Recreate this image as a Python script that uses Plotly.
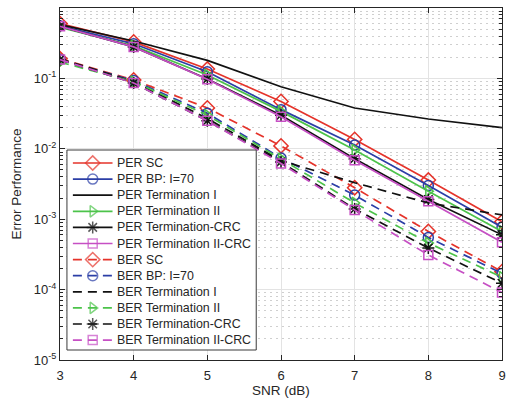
import plotly.graph_objects as go

snr = [3, 4, 5, 6, 7, 8, 9]

# Packet error rates
per_sc = [0.60, 0.33, 0.136, 0.047, 0.0136, 0.0036, 0.00092]
per_bp = [0.56, 0.31, 0.124, 0.036, 0.0113, 0.0030, 0.00077]
per_term1 = [0.58, 0.34, 0.18, 0.076, 0.038, 0.0265, 0.020]
per_term2 = [0.53, 0.29, 0.112, 0.034, 0.0096, 0.0025, 0.00067]
per_term_crc = [0.55, 0.28, 0.098, 0.030, 0.0072, 0.0019, 0.00060]
per_term2_crc = [0.55, 0.28, 0.097, 0.0286, 0.0069, 0.0018, 0.00047]

# Bit error rates
ber_sc = [0.19, 0.095, 0.038, 0.011, 0.0028, 0.00067, 0.00018]
ber_bp = [0.185, 0.093, 0.032, 0.0074, 0.0022, 0.00055, 0.00017]
ber_term1 = [0.19, 0.090, 0.027, 0.0068, 0.0033, 0.0017, 0.00115]
ber_term2 = [0.17, 0.090, 0.030, 0.0072, 0.0017, 0.00046, 0.00015]
ber_term_crc = [0.185, 0.086, 0.025, 0.0065, 0.0014, 0.00039, 0.000123]
ber_term2_crc = [0.185, 0.086, 0.025, 0.0062, 0.00135, 0.00031, 0.000091]

RED = "#e5332a"
BLUE = "#2b3ea6"
BLACK = "#111111"
GREEN = "#4cc34a"
MAGENTA = "#c64fc4"
TEXT = "#262626"
DASH = "9px,6px"

series = [
    ("PER SC", per_sc, RED, "diamond-open", "solid"),
    ("PER BP: I=70", per_bp, BLUE, "circle-open", "solid"),
    ("PER Termination I", per_term1, BLACK, None, "solid"),
    ("PER Termination II", per_term2, GREEN, "triangle-right-open", "solid"),
    ("PER Termination-CRC", per_term_crc, BLACK, "asterisk-open", "solid"),
    ("PER Termination II-CRC", per_term2_crc, MAGENTA, "square-open", "solid"),
    ("BER SC", ber_sc, RED, "diamond-open", DASH),
    ("BER BP: I=70", ber_bp, BLUE, "circle-open", DASH),
    ("BER Termination I", ber_term1, BLACK, None, DASH),
    ("BER Termination II", ber_term2, GREEN, "triangle-right-open", DASH),
    ("BER Termination-CRC", ber_term_crc, BLACK, "asterisk-open", DASH),
    ("BER Termination II-CRC", ber_term2_crc, MAGENTA, "square-open", DASH),
]

MARKER_SIZE = {"diamond-open": 11, "circle-open": 10, "triangle-right-open": 10,
               "asterisk-open": 10, "square-open": 9}

W, H = 507, 406
M_L, M_R, M_T, M_B = 60, 1, 8, 46
PW, PH = W - M_L - M_R, H - M_T - M_B


def fx(px):
    """Pixel column -> overlay axis coordinate."""
    return (px - M_L) / PW


def fy(py):
    """Pixel row -> overlay axis coordinate."""
    return 1 - (py - M_T) / PH


fig = go.Figure()
for name, vals, color, symbol, dash in series:
    mode = "lines+markers" if symbol else "lines"
    marker = dict(symbol=symbol, size=MARKER_SIZE.get(symbol, 9), color=color,
                  line=dict(width=1.5, color=color)) if symbol else None
    fig.add_trace(go.Scatter(
        x=snr, y=vals, name=name, mode=mode, showlegend=False,
        line=dict(color=color, width=1.7, dash=dash), marker=marker,
        xaxis="x", yaxis="y",
    ))

# Legend panel on an overlay subplot so it sits above the curves
box_l, box_r, box_t, box_b = 67, 258, 150, 350
fig.add_trace(go.Scatter(
    x=[fx(box_l), fx(box_r), fx(box_r), fx(box_l), fx(box_l)],
    y=[fy(box_t), fy(box_t), fy(box_b), fy(box_b), fy(box_t)],
    mode="lines", fill="toself", fillcolor="white",
    line=dict(color="#3a3a3a", width=1), hoverinfo="skip",
    showlegend=False, xaxis="x2", yaxis="y2",
))

row0, row_step = 163, 16.1
s_l, s_r = 73, 113
annotations = []
for i, (name, vals, color, symbol, dash) in enumerate(series):
    ry = fy(row0 + i * row_step)
    xs = [fx(s_l), fx((s_l + s_r) / 2), fx(s_r)]
    sizes = [0, MARKER_SIZE.get(symbol, 9), 0]
    fig.add_trace(go.Scatter(
        x=xs, y=[ry, ry, ry],
        mode="lines+markers" if symbol else "lines",
        line=dict(color=color, width=1.7, dash=dash),
        marker=dict(symbol=symbol, size=sizes, color=color,
                    line=dict(width=1.5, color=color)) if symbol else None,
        hoverinfo="skip", showlegend=False, xaxis="x2", yaxis="y2",
    ))
    annotations.append(dict(
        x=fx(118), y=ry, xref="x2", yref="y2", text=name, showarrow=False,
        xanchor="left", yanchor="middle", xshift=-2,
        font=dict(size=12.4, color=TEXT),
    ))

decades = [1e-5, 1e-4, 1e-3, 1e-2, 1e-1, 1]
decade_text = ["10<sup>-5</sup>", "10<sup>-4</sup>", "10<sup>-3</sup>",
               "10<sup>-2</sup>", "10<sup>-1</sup>", "10<sup>0</sup>"]
minor_vals = [k * d for d in decades[:-1] for k in range(2, 10)]

font_family = "Liberation Sans, Arial, sans-serif"

fig.update_layout(
    width=W, height=H,
    margin=dict(l=M_L, r=M_R, t=M_T, b=M_B),
    paper_bgcolor="white", plot_bgcolor="white",
    font=dict(family=font_family, size=12, color=TEXT),
    showlegend=False,
    annotations=annotations,
    xaxis=dict(
        range=[3, 9], tickvals=snr, ticks="inside", ticklen=5,
        tickcolor=TEXT, showline=True, linecolor=TEXT, linewidth=1,
        mirror="ticks", showgrid=True, gridcolor="#e3e3e3", gridwidth=1,
        zeroline=False, ticklabelstandoff=3, ticklabeloverflow="allow",
        title=dict(text="SNR (dB)", font=dict(size=13.5), standoff=2),
        tickfont=dict(size=13),
    ),
    yaxis=dict(
        type="log", range=[-5, 0], tickvals=decades, ticktext=decade_text,
        ticks="inside", ticklen=5, tickcolor=TEXT,
        showline=True, linecolor=TEXT, linewidth=1, mirror="ticks",
        showgrid=True, gridcolor="#e3e3e3", gridwidth=1, zeroline=False,
        minor=dict(tickvals=minor_vals, ticks="inside", ticklen=3,
                   tickcolor=TEXT, showgrid=True, gridcolor="#cfcfcf",
                   griddash="2px,4px", gridwidth=1),
        title=dict(text="Error Performance", font=dict(size=13.5), standoff=9),
        tickfont=dict(size=13),
    ),
    xaxis2=dict(overlaying="x", anchor="y2", range=[0, 1], visible=False,
                fixedrange=True),
    yaxis2=dict(overlaying="y", anchor="x2", range=[0, 1], visible=False,
                fixedrange=True),
)

fig.write_html("out.html")
